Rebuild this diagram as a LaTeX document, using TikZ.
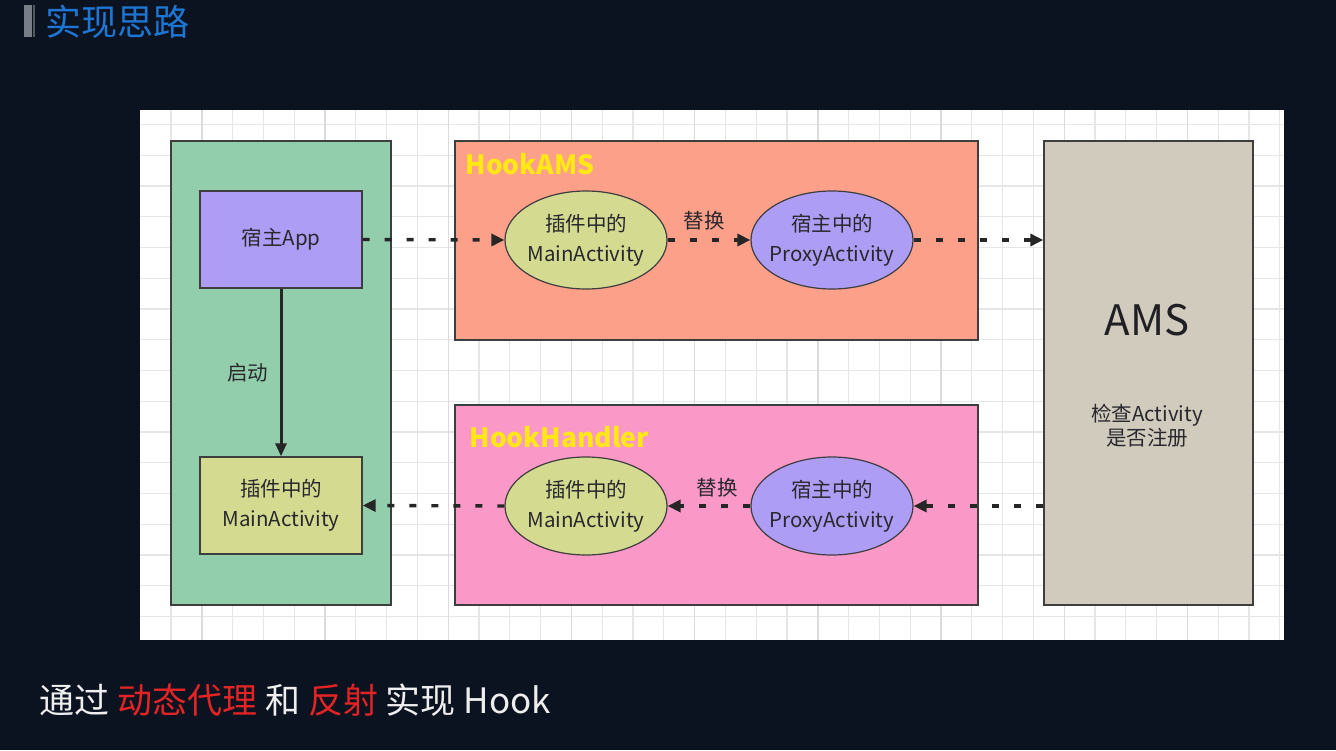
\documentclass[tikz,border=0pt]{standalone}
\usepackage{fontspec}
\setmainfont{Noto Sans CJK SC}
\usetikzlibrary{arrows.meta,shapes.geometric}
\definecolor{bgdark}{RGB}{11,18,32}
\definecolor{titleblue}{RGB}{30,118,212}
\definecolor{titlebar}{RGB}{120,126,136}
\definecolor{gridminor}{RGB}{230,230,230}
\definecolor{gridmajor}{RGB}{219,219,219}
\definecolor{boxline}{RGB}{62,62,62}
\definecolor{textdark}{RGB}{40,40,45}
\definecolor{hostfill}{RGB}{146,205,172}
\definecolor{appfill}{RGB}{174,157,245}
\definecolor{pluginfill}{RGB}{212,219,145}
\definecolor{hookamsfill}{RGB}{252,160,138}
\definecolor{handlerfill}{RGB}{250,152,200}
\definecolor{amsfill}{RGB}{209,203,190}
\definecolor{hookyellow}{RGB}{255,232,20}
\definecolor{hookred}{RGB}{226,36,36}
\definecolor{capwhite}{RGB}{238,238,238}

\begin{document}
\begin{tikzpicture}[x=1pt,y=-1pt,
  box/.style={draw=boxline,line width=1.4pt,inner sep=0pt,text=textdark,align=center,
    font=\fontsize{20.5}{30}\selectfont},
  oval/.style={ellipse,draw=boxline,line width=1.2pt,minimum width=162pt,
    minimum height=98pt,inner xsep=-20pt,inner ysep=0pt,text=textdark,align=center,
    font=\fontsize{20.5}{30}\selectfont},
  flow/.style={line width=3.4pt,color=black!85,dash pattern=on 7pt off 15pt,
    -{Triangle[length=13pt,width=12pt]}},
  hooklabel/.style={anchor=west,text=hookyellow,font=\fontsize{26.5}{30}\selectfont\bfseries},
  note/.style={text=textdark,font=\fontsize{20.5}{25}\selectfont}]
          \fill[bgdark] (0,0) rectangle (1336,750);
          \useasboundingbox (0,0) rectangle (1336,750);
          % title
          \fill[titlebar] (24,5) rectangle (31.7,37);
          \fill[titlebar!70!black] (33.3,5) rectangle (35.3,37);
          \node[anchor=west,text=titleblue,font=\fontsize{36}{40}\selectfont] (title) at (42,22) {实现思路};
          % canvas with grid
          \fill[white] (140,110) rectangle (1284,640);
          \foreach \k in {1,...,37}
            \draw[gridminor,line width=1.3pt] ({140.2+30.8*\k},110) -- ({140.2+30.8*\k},640);
          \foreach \k in {0,...,16}
            \draw[gridminor,line width=1.3pt] (140,{124.5+30.75*\k}) -- (1284,{124.5+30.75*\k});
          \foreach \k in {0,...,8}
            \draw[gridmajor,line width=1.4pt] ({201.8+123.2*\k},110) -- ({201.8+123.2*\k},640);
          % containers
          \node[box,fill=hostfill,minimum width=220pt,minimum height=464pt] (host) at (281,373) {};
          \node[box,fill=hookamsfill,minimum width=523pt,minimum height=199pt] (hookams) at (716.5,240.5) {};
          \node[box,fill=handlerfill,minimum width=523pt,minimum height=200pt] (hookhandler) at (716.5,505) {};
          \node[box,fill=amsfill,minimum width=209pt,minimum height=464pt] (ams) at (1148.5,373) {};
          \node[hooklabel] (hookamstitle) at (462,164) {HookAMS};
          \node[hooklabel] (hookhandlertitle) at (466,437) {HookHandler};
          \node[text=textdark!80!black,font=\fontsize{42}{46}\selectfont] (amstitle) at (1147,320) {AMS};
          \node[note,align=center] (amsnote) at (1147,426) {检查Activity\\[-1pt]是否注册};
          % host side
          \node[box,fill=appfill,minimum width=162pt,minimum height=97pt] (app) at (281,239.5) {宿主App};
          \node[box,fill=pluginfill,minimum width=162pt,minimum height=97pt] (plugin) at (281,505.5) {插件中的\\MainActivity};
          \draw[line width=3pt,black!85,-{Triangle[length=13pt,width=11pt]}] (app) -- (plugin)
            node[midway,left=8pt,note] (start) {启动};
          % hooks
          \node[oval,fill=pluginfill] (amsplugin) at (586,240) {插件中的\\MainActivity};
          \node[oval,fill=appfill] (amsproxy) at (832,240) {宿主中的\\ProxyActivity};
          \node[oval,fill=pluginfill] (handlerplugin) at (586,506) {插件中的\\MainActivity};
          \node[oval,fill=appfill] (handlerproxy) at (832,506) {宿主中的\\ProxyActivity};
          \node[note] (swapup) at (704,221) {替换};
          \node[note] (swapdown) at (717,488) {替换};
          \draw[flow] (app.east) -- (amsplugin.west);
          \draw[flow] (amsplugin.east) -- (amsproxy.west);
          \draw[flow] (amsproxy.east) -- (ams.west |- amsproxy);
          \draw[flow] (ams.west |- handlerproxy) -- (handlerproxy.east);
          \draw[flow] (handlerproxy.west) -- (handlerplugin.east);
          \draw[flow] (handlerplugin.west) -- (plugin.east);
          % caption
          \node[anchor=west,text=capwhite,font=\fontsize{35}{40}\selectfont] (caption) at (36,700)
            {通过 {\color{hookred}动态代理} 和 {\color{hookred}反射} 实现 Hook};
        \end{tikzpicture}
\end{document}
